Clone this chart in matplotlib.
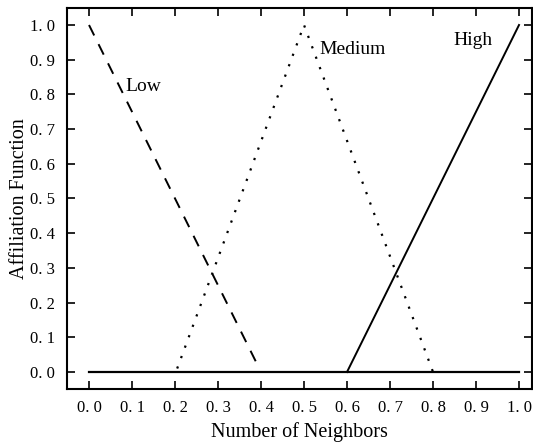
import matplotlib
matplotlib.use("Agg")
import matplotlib.pyplot as plt

low_x = [0.0, 0.39]
low_y = [1.0, 0.025]
med_x = [0.205, 0.5, 0.8]
med_y = [0.01, 1.0, 0.0]
high_x = [0.6, 1.0]
high_y = [0.0, 1.0]
base_x = [0.0, 1.0]
base_y = [0.0, 0.0]
ticks = [0.0, 0.1, 0.2, 0.3, 0.4, 0.5, 0.6, 0.7, 0.8, 0.9, 1.0]
tick_labels = ["0. 0", "0. 1", "0. 2", "0. 3", "0. 4", "0. 5", "0. 6", "0. 7", "0. 8", "0. 9", "1. 0"]

plt.rcParams['font.family'] = ['Liberation Serif', 'DejaVu Serif']

fig = plt.figure(figsize=(5.33, 4.44), dpi=100)
ax = fig.add_axes([67/533, 55/444, (532-67)/533, (389-8)/444])

ax.plot(base_x, base_y, color='black', lw=1.6)
ax.plot(low_x, low_y, color='black', lw=1.4, linestyle=(0, (6, 5)))
ax.plot(med_x, med_y, color='black', lw=1.6, linestyle=(0, (1, 4)))
ax.plot(high_x, high_y, color='black', lw=1.4)

ax.text(0.084, 0.824, "Low", fontsize=14, va='center', ha='left')
ax.text(0.535, 0.928, "Medium", fontsize=14, va='center', ha='left')
ax.text(0.847, 0.954, "High", fontsize=14, va='center', ha='left')

ax.set_xlim(-0.0512, 1.0302)
ax.set_ylim(-0.049, 1.049)
ax.set_xticks(ticks)
ax.set_xticklabels(tick_labels)
ax.set_yticks(ticks)
ax.set_yticklabels(tick_labels)
ax.tick_params(direction='in', top=True, right=True, length=6, width=1.2, labelsize=12)
ax.tick_params(axis='x', pad=8)
ax.tick_params(axis='y', pad=9)
for s in ax.spines.values():
    s.set_linewidth(1.5)
ax.set_xlabel("Number of Neighbors", fontsize=14.5, labelpad=4)
ax.set_ylabel("Affiliation Function", fontsize=14.5, labelpad=0)

fig.savefig("out.png", dpi=100)
